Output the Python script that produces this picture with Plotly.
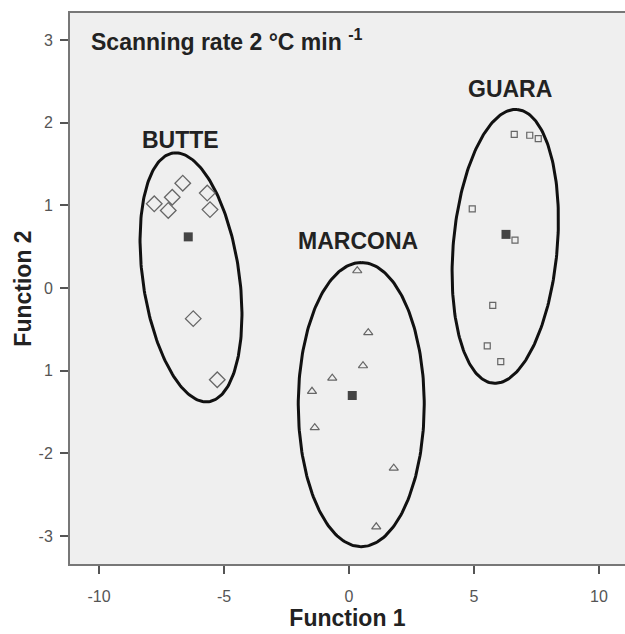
import numpy as np
import plotly.graph_objects as go

# ---- data ----
butte_x = [-7.79, -7.07, -7.23, -6.65, -5.67, -5.56, -6.23, -5.27]
butte_y = [1.02, 1.10, 0.94, 1.27, 1.15, 0.95, -0.37, -1.11]
marcona_x = [0.33, 0.77, 0.56, -0.67, -1.48, -1.37, 1.79, 1.09]
marcona_y = [0.21, -0.54, -0.94, -1.09, -1.25, -1.69, -2.18, -2.89]
guara_x = [6.61, 7.23, 7.57, 4.93, 6.64, 5.75, 5.53, 6.07]
guara_y = [1.86, 1.85, 1.81, 0.96, 0.58, -0.21, -0.70, -0.89]
centroid_x = [-6.43, 0.13, 6.28]
centroid_y = [0.62, -1.30, 0.65]
group_names = ["BUTTE", "MARCONA", "GUARA"]

# ellipse: centre, major-axis vector, minor-axis vector (data units)
ell_center = [(-6.32, 0.13), (0.49, -1.41), (6.25, 0.505)]
ell_major = [(-0.716, 1.505), (0.0, 1.72), (0.48, 1.657)]
ell_minor = [(1.909, 0.083), (2.52, 0.0), (2.072, -0.054)]

x_ticks = [-10, -5, 0, 5, 10]
x_ticktext = ["-10", "-5", "0", "5", "10"]
y_ticks = [-3, -2, -1, 0, 1, 2, 3]
y_ticktext = ["-3", "-2", "1", "0", "1", "2", "3"]

FONT = "Liberation Sans, Arial, sans-serif"
BIG = 23
fig = go.Figure()

t = np.linspace(0, 2 * np.pi, 241)
for (cx, cy), (ax, ay), (bx, by) in zip(ell_center, ell_major, ell_minor):
    fig.add_trace(go.Scatter(
        x=cx + ax * np.cos(t) + bx * np.sin(t),
        y=cy + ay * np.cos(t) + by * np.sin(t),
        mode="lines", line=dict(color="#111111", width=3),
        hoverinfo="skip", showlegend=False))

fig.add_trace(go.Scatter(x=butte_x, y=butte_y, mode="markers", name="BUTTE",
                         marker=dict(symbol="diamond-open", size=12,
                                     color="#666666", line=dict(width=1.3))))
fig.add_trace(go.Scatter(x=marcona_x, y=marcona_y, mode="markers", name="MARCONA",
                         marker=dict(symbol="triangle-up-open", size=8,
                                     color="#666666", line=dict(width=1.2))))
fig.add_trace(go.Scatter(x=guara_x, y=guara_y, mode="markers", name="GUARA",
                         marker=dict(symbol="square-open", size=6,
                                     color="#666666", line=dict(width=1.2))))
fig.add_trace(go.Scatter(x=centroid_x, y=centroid_y, mode="markers", name="Centroid",
                         marker=dict(symbol="square", size=9, color="#444444")))

annots = [
    dict(x=-6.74, y=1.79, text="BUTTE"),
    dict(x=0.36, y=0.57, text="MARCONA"),
    dict(x=6.45, y=2.41, text="GUARA"),
]
for a in annots:
    fig.add_annotation(x=a["x"], y=a["y"], text="<b>%s</b>" % a["text"],
                       showarrow=False, xanchor="center", yanchor="middle",
                       font=dict(family=FONT, size=BIG, color="#222222"))

fig.add_annotation(xref="paper", x=0.035, y=3.0, yref="y",
                   text="<b>Scanning rate 2 \u00b0C min <sup>-1</sup></b>",
                   showarrow=False, xanchor="left", yanchor="middle",
                   font=dict(family=FONT, size=BIG, color="#222222"))

axis_common = dict(showgrid=False, zeroline=False, showline=True,
                   linecolor="#777777", linewidth=2, ticks="outside",
                   tickcolor="#555555", ticklen=8, tickwidth=2,
                   tickfont=dict(family=FONT, size=16, color="#555555"))

fig.update_xaxes(range=[-11.16, 11.04], tickvals=x_ticks, ticktext=x_ticktext,
                 mirror=True,
                 title=dict(text="<b>Function 1</b>", standoff=4,
                            font=dict(family=FONT, size=BIG, color="#222222")),
                 ticklabelstandoff=9, **axis_common)
fig.update_yaxes(range=[-3.34, 3.33], tickvals=y_ticks, ticktext=y_ticktext,
                 title=dict(text="<b>Function 2</b>", standoff=1,
                            font=dict(family=FONT, size=BIG, color="#222222")),
                 ticklabelstandoff=4, **axis_common)

fig.update_layout(width=625, height=634, margin=dict(l=70, r=0, t=13, b=70),
                  plot_bgcolor="#efefef", paper_bgcolor="white",
                  showlegend=False)

fig.write_html("out.html")
